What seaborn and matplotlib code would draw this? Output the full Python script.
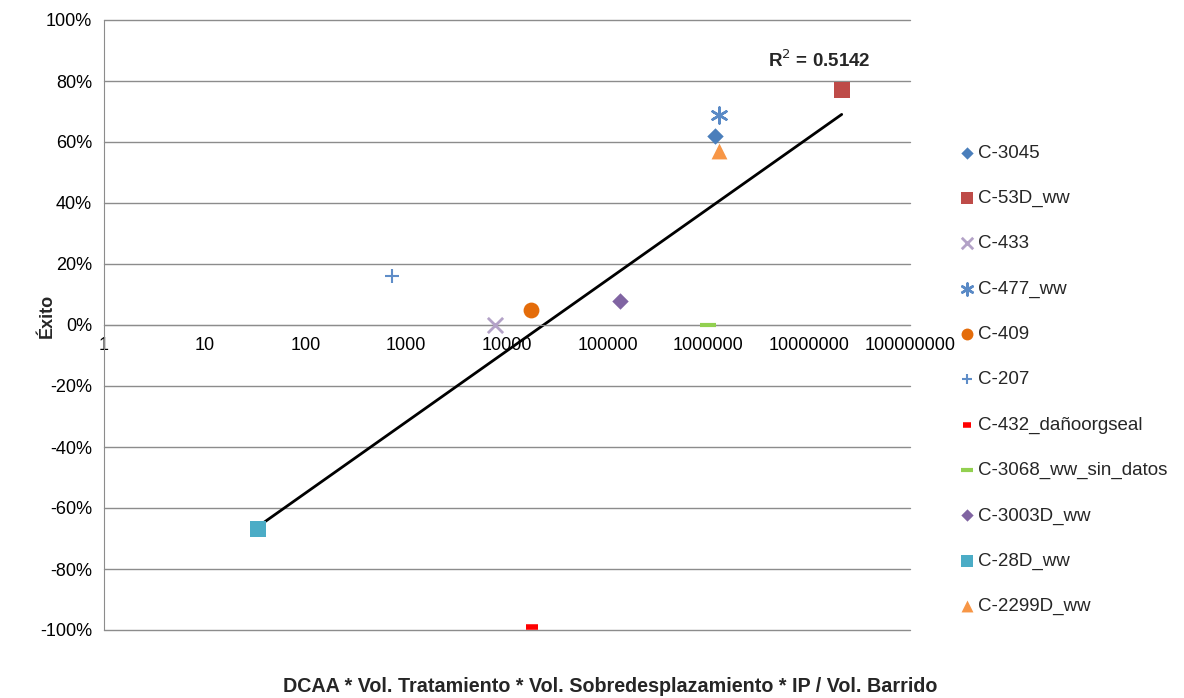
import numpy as np
import pandas as pd
import matplotlib
matplotlib.use("Agg")
import matplotlib.pyplot as plt
import matplotlib.ticker as mticker
import seaborn as sns

# data
pozos = ["C-3045", "C-53D_ww", "C-433", "C-477_ww", "C-409", "C-207",
         "C-432_dañoorgseal", "C-3068_ww_sin_datos", "C-3003D_ww", "C-28D_ww", "C-2299D_ww"]
indice = [1.16e6, 2.1e7, 7600, 1.27e6, 17300, 720, 17700, 1.0e6, 132000, 34, 1.27e6]
exito = [0.62, 0.77, 0.00, 0.69, 0.05, 0.16, -0.99, 0.00, 0.08, -0.67, 0.57]
r2_label = "R$^2$ = 0.5142"

colores = ["#4A7EBB", "#BE4B48", "#B3A2C7", "#5A8AC6", "#E46C0A", "#5F8DC8",
           "#FF0000", "#92D050", "#8064A2", "#4BACC6", "#F79646"]
marcadores = ["D", "s", "x", (6, 2, 0), "o", "+", "_", "_", "D", "s", "^"]
tamanos = [70, 140, 120, 130, 130, 110, 70, 120, 70, 140, 130]
grosor = [0, 0, 2, 1.8, 0, 1.5, 4, 3, 0, 0, 0]

df = pd.DataFrame({"pozo": pozos, "x": indice, "y": exito})

sns.set_style("white")
plt.rcParams["font.family"] = ["Liberation Sans", "DejaVu Sans"]
plt.rcParams["axes.unicode_minus"] = False

fig = plt.figure(figsize=(11.84, 6.98), dpi=100)
ax = fig.add_axes([104 / 1184, 1 - 630 / 698, (910 - 104) / 1184, 610 / 698])

for i, row in df.iterrows():
    sns.scatterplot(x=[row.x], y=[row.y], ax=ax, marker=marcadores[i], s=tamanos[i],
                    color=colores[i], linewidth=grosor[i], label=row.pozo, zorder=3)

# logarithmic trendline fitted over all points
sns.regplot(data=df, x="x", y="y", logx=True, ci=None, scatter=False, ax=ax,
            line_kws=dict(color="black", lw=2, zorder=2), truncate=True)

ax.set_xscale("log")
ax.set_xlim(1, 1e8)
ax.set_ylim(-1, 1)
ax.xaxis.set_major_locator(mticker.LogLocator(base=10, numticks=20))
ax.xaxis.set_minor_locator(mticker.NullLocator())
ax.xaxis.set_major_formatter(mticker.FuncFormatter(lambda v, p: f"{v:.0f}"))
ax.yaxis.set_major_locator(mticker.MultipleLocator(0.2))
ax.yaxis.set_major_formatter(mticker.PercentFormatter(1.0, decimals=0))

ax.grid(axis="y", color="#8C8C8C", lw=1)
ax.grid(axis="x", visible=False)
for gl in ax.get_ygridlines():
    gl.set_clip_on(False)
for s in ["top", "right"]:
    ax.spines[s].set_visible(False)
ax.spines["bottom"].set_position(("data", 0))
ax.spines["bottom"].set_color("#8C8C8C")
ax.spines["left"].set_color("#8C8C8C")
ax.tick_params(axis="both", which="major", direction="out", length=5, color="#8C8C8C",
               labelsize=13, labelcolor="black")
ax.set_axisbelow(True)

ax.set_xlabel("")
ax.set_ylabel("Éxito", fontsize=13, fontweight="bold")
ax.yaxis.set_label_coords(-0.06, 0.515)
fig.text(610 / 1184, 1 - 686 / 698, "DCAA * Vol. Tratamiento * Vol. Sobredesplazamiento * IP / Vol. Barrido",
         ha="center", va="center", fontsize=14.2, fontweight="bold")

ax.text(0.887, 0.934, r2_label, transform=ax.transAxes, ha="center", va="center",
        fontsize=13.5, fontweight="bold")

ax.legend(loc="center left", bbox_to_anchor=(953 / 1184, 1 - 380 / 698),
          bbox_transform=fig.transFigure, frameon=False, fontsize=13.5, markerscale=0.75,
          labelspacing=1.5, handlelength=0.7, handletextpad=0.25, borderaxespad=0)

fig.savefig("out.png", dpi=100)
